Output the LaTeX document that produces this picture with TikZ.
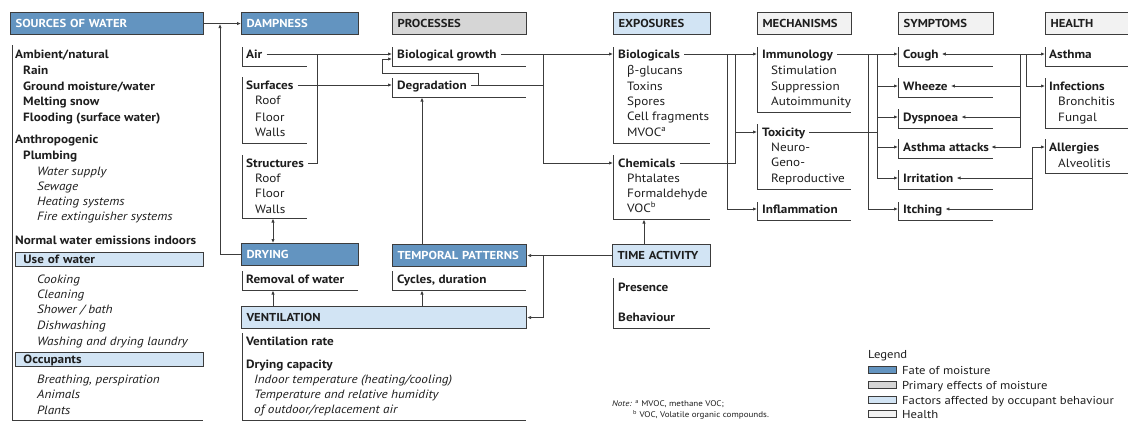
\documentclass[tikz,border=0pt]{standalone}
\usepackage{fontspec}
\setmainfont{PT Sans}[FakeStretch=1.1]
\newfontfamily\grk{Noto Sans}
\usetikzlibrary{arrows.meta}
\definecolor{fate}{HTML}{6394C0}
\definecolor{prim}{HTML}{D6D6D6}
\definecolor{occ}{HTML}{D2E4F4}
\definecolor{hlth}{HTML}{F2F2F2}
\definecolor{edge}{HTML}{3C3C3C}
\definecolor{ink}{HTML}{1E1E1E}
\newcommand\bodyf{\fontsize{12}{14}\selectfont}
\newcounter{tn}
\newcommand\tln[4][tl]{\stepcounter{tn}\node[#1] (t\thetn) at (#2,#3) {#4};}
\begin{document}
\begin{tikzpicture}[x=1pt,y=-1pt,
  tl/.style={anchor=west,inner sep=0pt,text height=8.5pt,text depth=0pt,text=ink,font=\bodyf},
  tb/.style={tl,font=\bodyf\bfseries},
  ti/.style={tl,font=\bodyf\itshape},
  hb/.style={draw=edge,line width=1.1pt,anchor=north west,inner xsep=5pt,inner ysep=0pt,minimum height=22pt,text height=8.5pt,text depth=0pt,align=left,font=\fontsize{11.5}{13}\selectfont\bfseries,text=ink},
  dk/.style={fill=fate,text=white},
  gr/.style={fill=prim},
  lb/.style={fill=occ},
  hl/.style={fill=hlth},
  brk/.style={draw=edge,line width=0.8pt},
  con/.style={draw=edge,line width=0.8pt},
  arr/.style={con,-{Latex[length=4pt,width=3.4pt]}},
  arrb/.style={con,{Latex[length=4pt,width=3.4pt]}-{Latex[length=4pt,width=3.4pt]}},
  sw/.style={draw=edge,line width=0.9pt}
]
\useasboundingbox (0,0) rectangle (1128,421);

% ---------- header boxes ----------
\node[hb,dk,text width=183pt] (src) at (10,12) {SOURCES OF WATER};
\node[hb,dk,text width=107pt] (damp) at (241,12) {DAMPNESS};
\node[hb,gr,text width=124pt] (proc) at (392,12) {PROCESSES};
\node[hb,lb,text width=87pt] (expo) at (613,12) {EXPOSURES};
\node[hb,hl,text width=84pt] (mech) at (757,12) {MECHANISMS};
\node[hb,hl,text width=85pt] (symp) at (898,12) {SYMPTOMS};
\node[hb,hl,text width=90pt] (hlth) at (1045,12) {HEALTH};
\node[hb,dk,text width=107pt] (drying) at (241,243) {DRYING};
\node[hb,dk,text width=124pt] (temp) at (392,244) {TEMPORAL PATTERNS};
\node[hb,lb,text width=88pt] (time) at (612,244) {TIME ACTIVITY};
\node[hb,lb,text width=275pt] (vent) at (241,306) {VENTILATION};

% ---------- sources of water ----------
\draw[brk] (12,45) |- (203,420);
\node[tb] (amb) at (15,54) {Ambient/natural};
\tln[tb]{23}{70}{Rain}
\tln[tb]{23}{86}{Ground moisture/water}
\tln[tb]{23}{101}{Melting snow}
\tln[tb]{23}{117}{Flooding (surface water)}
\node[tb] (anth) at (15,139) {Anthropogenic};
\tln[tb]{23}{155}{Plumbing}
\tln[ti]{37}{171}{Water supply}
\tln[ti]{37}{186}{Sewage}
\tln[ti]{37}{201}{Heating systems}
\tln[ti]{37}{216}{Fire extinguisher systems}
\node[tb] (norm) at (15,240) {Normal water emissions indoors};
\node[hb,lb,line width=0.9pt,minimum height=14pt,inner xsep=8pt,text width=172pt,font=\bodyf\bfseries] (use) at (15,252) {Use of water};
\tln[ti]{37}{279}{Cooking}
\tln[ti]{37}{294}{Cleaning}
\tln[ti]{37}{309}{Shower / bath}
\tln[ti]{37}{325}{Dishwashing}
\tln[ti]{37}{341}{Washing and drying laundry}
\node[hb,lb,line width=0.9pt,minimum height=14pt,inner xsep=8pt,text width=172pt,font=\bodyf\bfseries] (occp) at (15,352) {Occupants};
\tln[ti]{37}{379}{Breathing, perspiration}
\tln[ti]{37}{394}{Animals}
\tln[ti]{37}{410}{Plants}

% ---------- dampness ----------
\draw[brk] (242,47) |- (307,66);
\draw[brk] (242,77) |- (307,143);
\draw[brk] (242,155) |- (307,218);
\node[tb] (air) at (246,54) {Air};
\node[tb] (surf) at (246,85) {Surfaces};
\tln{255}{100}{Roof}
\tln{255}{117}{Floor}
\tln{255}{132}{Walls}
\node[tb] (struct) at (246,163) {Structures};
\tln{255}{178}{Roof}
\tln{255}{193}{Floor}
\tln{255}{209}{Walls}

% ---------- processes ----------
\draw[brk] (392,47) |- (526,66);
\draw[brk] (392,78) |- (526,97);
\node[tb] (biog) at (397,54) {Biological growth};
\node[tb] (degr) at (397,85) {Degradation};

% ---------- exposures ----------
\draw[brk] (613,47) |- (710,143);
\draw[brk] (613,155) |- (710,219);
\node[tb] (biol) at (618,54) {Biologicals};
\tln{627}{70}{{\grk β}-glucans}
\tln{627}{86}{Toxins}
\tln{627}{101}{Spores}
\tln{627}{116}{Cell fragments}
\tln{627}{132}{MVOC\textsuperscript{a}}
\node[tb] (chem) at (618,163) {Chemicals};
\tln{627}{178}{Phtalates}
\tln{627}{193}{Formaldehyde}
\tln{627}{208}{VOC\textsuperscript{b}}

% ---------- mechanisms ----------
\draw[brk] (757,47) |- (851,112);
\draw[brk] (757,124) |- (851,189);
\draw[brk] (757,202) |- (851,220);
\node[tb] (immu) at (762,54) {Immunology};
\tln{771}{70}{Stimulation}
\tln{771}{86}{Suppression}
\tln{771}{101}{Autoimmunity}
\node[tb] (toxi) at (762,132) {Toxicity};
\tln{771}{147}{Neuro-}
\tln{771}{162}{Geno-}
\tln{771}{178}{Reproductive}
\node[tb] (infl) at (762,209) {Inflammation};

% ---------- symptoms ----------
\draw[brk] (898,47) |- (993,66);
\draw[brk] (898,78) |- (993,97);
\draw[brk] (898,109) |- (993,128);
\draw[brk] (898,139) |- (993,158);
\draw[brk] (898,170) |- (993,189);
\draw[brk] (898,202) |- (993,220);
\node[tb] (cough) at (903,54) {Cough};
\node[tb] (whee) at (903,86) {Wheeze};
\node[tb] (dysp) at (903,117) {Dyspnoea};
\node[tb] (asat) at (903,147) {Asthma attacks};
\node[tb] (irri) at (903,178) {Irritation};
\node[tb] (itch) at (903,209) {Itching};

% ---------- health ----------
\draw[brk] (1045,47) |- (1130,66);
\draw[brk] (1045,78) |- (1130,128);
\draw[brk] (1045,139) |- (1130,173);
\node[tb] (asth) at (1049,54) {Asthma};
\node[tb] (infe) at (1049,86) {Infections};
\tln{1058}{101}{Bronchitis}
\tln{1058}{117}{Fungal}
\node[tb] (alle) at (1049,147) {Allergies};
\tln{1058}{163}{Alveolitis}

% ---------- lower blocks ----------
\draw[brk] (242,271) |- (358,290);
\node[tb] (remo) at (246,279) {Removal of water};
\draw[brk] (392,271) |- (526,290);
\node[tb] (cycl) at (397,279) {Cycles, duration};
\draw[brk] (613,278) |- (710,328);
\node[tb] (pres) at (618,287) {Presence};
\node[tb] (beha) at (618,317) {Behaviour};
\draw[brk] (242,333) |- (526,420);
\node[tb] (vrat) at (246,341) {Ventilation rate};
\node[tb] (dcap) at (246,364) {Drying capacity};
\tln[ti]{254}{379}{Indoor temperature (heating/cooling)}
\tln[ti]{254}{394}{Temperature and relative humidity}
\tln[ti]{254}{409}{of outdoor/replacement air}

% ---------- junction coordinates ----------
\coordinate (jdamp) at (220,24);
\coordinate (jair) at (317,54);
\coordinate (jdeg) at (478,85);
\coordinate (jloop) at (382,73);
\coordinate (jexp) at (543,54);
\coordinate (jm1) at (727,54);
\coordinate (jm2) at (735,54);
\coordinate (jtox) at (735,132);
\coordinate (js1) at (868,54);
\coordinate (js2) at (877,54);
\coordinate (jstox) at (877,132);
\coordinate (jh1) at (1020,54);
\coordinate (jh2) at (1026,54);
\coordinate (jh3) at (1032,147);
\coordinate (strb) at (273,218.5);
\coordinate (remb) at (273,290.5);
\coordinate (cycb) at (422,290.5);
\coordinate (degb) at (422,97.5);
\coordinate (chmb) at (644,219.5);
\coordinate (jtime) at (543,255);

% ---------- connectors ----------
\draw[arr] (src.east) -- (damp.west);
\draw[arr] (drying.west) -| (jdamp);
\draw[arr] ([xshift=4pt]air.east) -- ([xshift=-5pt]biog.west);
\draw[arr] ([xshift=4pt]surf.east) -- ([xshift=-5pt]degr.west);
\draw[con] ([xshift=4pt]struct.east) -| (jair);
\draw[con] ([xshift=4pt]degr.east) -- (jexp |- jdeg);
\draw[arr] (jdeg) |- (jloop) |- ([xshift=-5pt,yshift=-5pt]biog.west);
\draw[arr] ([xshift=4pt]biog.east) -- ([xshift=-5pt]biol.west);
\draw[arr] (jexp) |- ([xshift=-5pt]chem.west);
\draw[arr] ([xshift=4pt]biol.east) -- ([xshift=-5pt]immu.west);
\draw[con] ([xshift=4pt]chem.east) -| (jm2);
\draw[arr] (jtox) -- ([xshift=-5pt]toxi.west);
\draw[arr] (jm1) |- ([xshift=-5pt]infl.west);
\draw[arr] ([xshift=4pt]immu.east) -- ([xshift=-5pt]cough.west);
\draw[con] ([xshift=4pt]toxi.east) -- (jstox);
\draw[arr] (js2) |- ([xshift=-5pt]whee.west);
\draw[arr] (js2) |- ([xshift=-5pt]dysp.west);
\draw[arr] (js2) |- ([xshift=-5pt]asat.west);
\draw[arr] (js2) |- ([xshift=-5pt]irri.west);
\draw[arr] (js1) |- ([xshift=-5pt]itch.west);
\draw[arrb] ([xshift=3pt]cough.east) -- ([xshift=-4pt]asth.west);
\draw[arr] (jh1) |- ([xshift=3pt]whee.east);
\draw[arr] (jh1) |- ([xshift=3pt]dysp.east);
\draw[arr] (jh1) |- ([xshift=2pt]asat.east);
\draw[arr] (jh2) |- ([xshift=-4pt]infe.west);
\draw[arr] (jh3) -- ([xshift=-4pt]alle.west);
\draw[arr] (jh3) |- ([xshift=3pt]irri.east);
\draw[arr] (jh3) |- ([xshift=3pt]itch.east);
\draw[arrb] (strb) -- (drying.north -| strb);
\draw[arr] (vent.north -| remb) -- (remb);
\draw[arr] (vent.north -| cycb) -- (cycb);
\draw[arr] (temp.north -| degb) -- (degb);
\draw[arr] (time.west) -- (temp.east);
\draw[arr] (jtime) |- (vent.east);
\draw[arr] (time.north -| chmb) -- (chmb);

% ---------- note ----------
\node[anchor=west,inner sep=0pt,text=ink,font=\fontsize{8.2}{9}\selectfont] (note1) at (612,404) {\textit{Note:} \textsuperscript{a} MVOC, methane VOC;};
\node[anchor=west,inner sep=0pt,text=ink,font=\fontsize{8.2}{9}\selectfont] (note2) at (633,415) {\textsuperscript{b} VOC, Volatile organic compounds.};

% ---------- legend ----------
\node[tl,font=\fontsize{11.5}{13}\selectfont] (leg) at (868,354) {Legend};
\draw[sw,fill=fate] (868,366) rectangle (896,373);
\draw[sw,fill=prim] (868,381) rectangle (896,388);
\draw[sw,fill=occ] (868,396) rectangle (896,403);
\draw[sw,fill=hlth] (868,410) rectangle (896,417);
\node[tl,font=\fontsize{11.5}{13}\selectfont] (lg1) at (902,370) {Fate of moisture};
\node[tl,font=\fontsize{11.5}{13}\selectfont] (lg2) at (902,385) {Primary effects of moisture};
\node[tl,font=\fontsize{11.5}{13}\selectfont] (lg3) at (902,400) {Factors affected by occupant behaviour};
\node[tl,font=\fontsize{11.5}{13}\selectfont] (lg4) at (902,414) {Health};
\end{tikzpicture}
\end{document}
